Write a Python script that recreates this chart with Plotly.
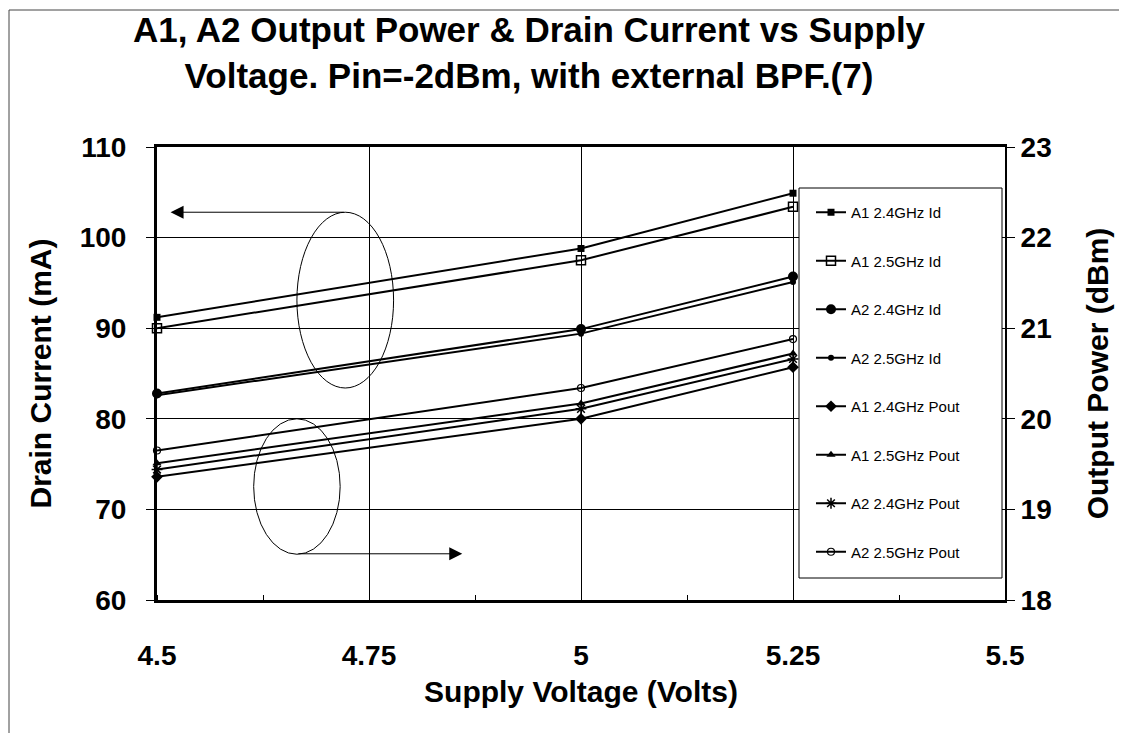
import plotly.graph_objects as go

# ---------------- data ----------------
voltage = [4.5, 5.0, 5.25]

a1_24_id = [91.2, 98.8, 104.9]
a1_25_id = [90.0, 97.5, 103.4]
a2_24_id = [82.8, 89.9, 95.7]
a2_25_id = [82.6, 89.4, 95.1]

a1_24_pout = [19.36, 20.00, 20.57]
a1_25_pout = [19.51, 20.17, 20.72]
a2_24_pout = [19.44, 20.11, 20.66]
a2_25_pout = [19.65, 20.34, 20.88]

x_ticks = [4.5, 4.75, 5.0, 5.25, 5.5]
x_ticktext = ["4.5", "4.75", "5", "5.25", "5.5"]
y_ticks = [60, 70, 80, 90, 100, 110]
y2_ticks = [18, 19, 20, 21, 22, 23]

names = ["A1 2.4GHz Id", "A1 2.5GHz Id", "A2 2.4GHz Id", "A2 2.5GHz Id",
         "A1 2.4GHz Pout", "A1 2.5GHz Pout", "A2 2.4GHz Pout", "A2 2.5GHz Pout"]

FONT = "Liberation Sans, Arial, sans-serif"

# ---------------- figure ----------------
W, H = 1127, 733
L, R, T, B = 149, 997, 139, 592   # plot area in px

def px2px(x):
    return (x - L) / (R - L)

def py2py(y):
    return (B - y) / (B - T)

fig = go.Figure()

series = [
    (names[0], a1_24_id, "y", dict(symbol="square", size=7, color="black")),
    (names[1], a1_25_id, "y", dict(symbol="square-open", size=9, color="black", line=dict(width=1.5))),
    (names[2], a2_24_id, "y", dict(symbol="circle", size=10, color="black")),
    (names[3], a2_25_id, "y", dict(symbol="circle", size=6, color="black")),
    (names[4], a1_24_pout, "y2", dict(symbol="diamond", size=9, color="black")),
    (names[5], a1_25_pout, "y2", dict(symbol="triangle-up", size=8, color="black")),
    (names[6], a2_24_pout, "y2", dict(symbol="asterisk-open", size=9, color="black", line=dict(width=1.5, color="black"))),
    (names[7], a2_25_pout, "y2", dict(symbol="circle-open", size=7, color="black", line=dict(width=1.2))),
]

for i, (nm, vals, ax, mk) in enumerate(series):
    fig.add_trace(go.Scatter(
        x=voltage, y=vals, name=nm, yaxis=ax, mode="lines+markers",
        line=dict(color="black", width=2), marker=mk, cliponaxis=False,
        legendgroup=f"g{i}",
    ))

# legend box (white filled)
lx0, lx1, ly0, ly1 = 791, 994, 180, 570
shapes = [
    dict(type="rect", xref="paper", yref="paper",
         x0=px2px(lx0), x1=px2px(lx1), y0=py2py(ly1), y1=py2py(ly0),
         line=dict(color="black", width=1), fillcolor="white", layer="above"),
    # ellipses
    dict(type="circle", xref="x", yref="y", x0=4.665, x1=4.779, y0=83.4, y1=102.8,
         line=dict(color="black", width=1)),
    dict(type="circle", xref="x", yref="y", x0=4.614, x1=4.716, y0=65.05, y1=80.0,
         line=dict(color="black", width=1)),
    # outer border of the picture
    dict(type="rect", xref="paper", yref="paper",
         x0=px2px(1), x1=px2px(1125), y0=py2py(731), y1=py2py(2),
         line=dict(color="#444", width=1)),
]

annotations = [
    dict(x=4.516, y=102.8, ax=4.722, ay=102.8, xref="x", yref="y", axref="x", ayref="y",
         showarrow=True, arrowhead=2, arrowsize=2.6, arrowwidth=1, arrowcolor="black", text=""),
    dict(x=4.86, y=65.1, ax=4.665, ay=65.1, xref="x", yref="y", axref="x", ayref="y",
         showarrow=True, arrowhead=2, arrowsize=2.6, arrowwidth=1, arrowcolor="black", text=""),
]

fig.update_layout(
    width=W, height=H,
    margin=dict(l=L, r=W - R, t=T, b=H - B, pad=0),
    paper_bgcolor="white", plot_bgcolor="white",
    font=dict(family=FONT, color="black"),
    title=dict(
        text="A1, A2 Output Power & Drain Current vs Supply<br>Voltage. Pin=-2dBm, with external BPF.(7)",
        x=521 / W, xanchor="center", y=1 - 34 / H, yanchor="top",
        xref="container", yref="container",
        font=dict(family=FONT, size=35, weight="bold", color="black"),
    ),
    xaxis=dict(
        range=[4.5, 5.5], tickvals=x_ticks, ticktext=x_ticktext,
        showgrid=True, gridcolor="black", gridwidth=1,
        showline=True, linecolor="black", linewidth=3, mirror=True,
        ticks="", zeroline=False,
        tickfont=dict(family=FONT, size=28, weight="bold"),
        ticklabelstandoff=28,
        minor=dict(dtick=0.125, ticks="inside", ticklen=5, tickcolor="black", showgrid=False),
        title=dict(text="Supply Voltage (Volts)", font=dict(family=FONT, size=30, weight="bold"), standoff=12),
    ),
    yaxis=dict(
        range=[60, 110], tickvals=y_ticks,
        showgrid=True, gridcolor="black", gridwidth=1,
        showline=True, linecolor="black", linewidth=3,
        ticks="outside", ticklen=8, tickcolor="black", zeroline=False,
        tickfont=dict(family=FONT, size=28, weight="bold"),
        ticklabelstandoff=14,
        title=dict(text="Drain Current (mA)", font=dict(family=FONT, size=30, weight="bold"), standoff=20),
    ),
    yaxis2=dict(
        range=[18, 23], tickvals=y2_ticks, overlaying="y", side="right",
        showgrid=False, showline=True, linecolor="black", linewidth=2,
        ticks="outside", ticklen=8, tickcolor="black", zeroline=False,
        tickfont=dict(family=FONT, size=28, weight="bold"),
        ticklabelstandoff=0,
        title=dict(text="Output Power (dBm)", font=dict(family=FONT, size=30, weight="bold"), standoff=36),
    ),
    legend=dict(
        x=px2px(803), y=py2py(188), xanchor="left", yanchor="top",
        bgcolor="rgba(0,0,0,0)", borderwidth=0,
        font=dict(family=FONT, size=15, color="black"),
        tracegroupgap=26, traceorder="grouped",
    ),
    shapes=shapes,
    annotations=annotations,
    showlegend=True,
)

fig.write_html("out.html")
